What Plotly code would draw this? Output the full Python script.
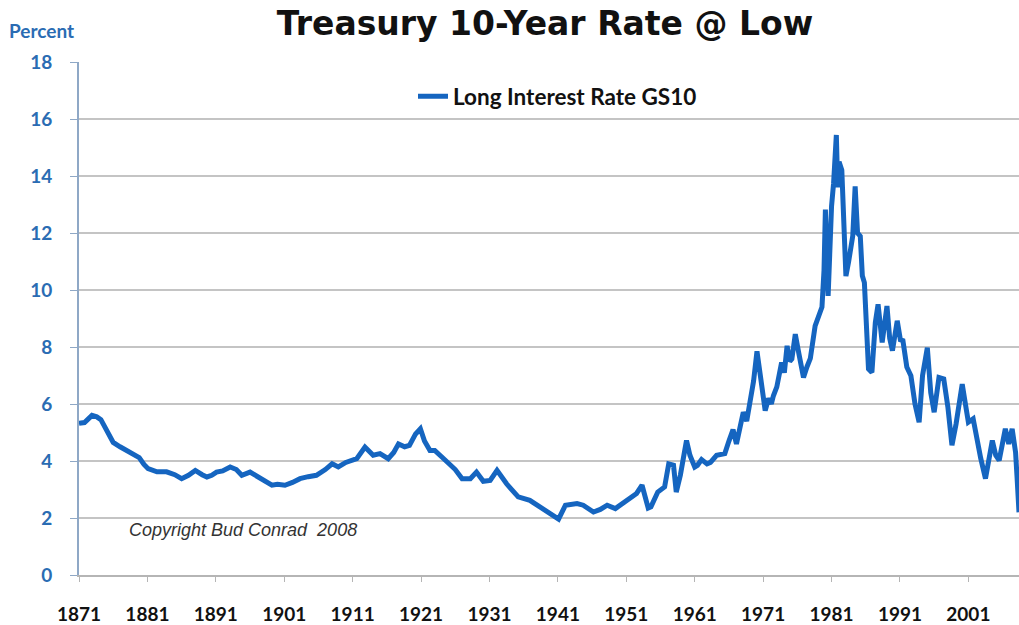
import plotly.graph_objects as go

# Long-term interest rate (GS10), percent, by fractional year
years = [
    1871.0, 1871.8, 1872.9, 1873.6, 1874.2, 1875.0, 1876.0, 1877.0, 1878.0, 1879.0,
    1879.8, 1880.5, 1881.1, 1882.4, 1883.8, 1885.0, 1886.0, 1887.0, 1888.0, 1889.0,
    1889.7, 1890.4, 1891.1, 1892.0, 1893.1, 1894.0, 1894.8, 1896.0, 1897.5, 1898.3,
    1899.2, 1900.0, 1901.1, 1902.2, 1903.3, 1904.5, 1905.7, 1907.0, 1908.0, 1908.9,
    1910.0, 1911.6, 1912.8, 1914.0, 1915.0, 1916.2, 1917.0, 1917.7, 1918.6, 1919.3,
    1920.2, 1920.9, 1921.5, 1922.3, 1923.0, 1924.0, 1924.8, 1926.0, 1927.0, 1928.2,
    1929.1, 1930.1, 1931.1, 1932.1, 1933.5, 1935.2, 1936.9, 1938.4, 1939.8, 1941.1,
    1942.1, 1943.8, 1944.7, 1946.2, 1947.2, 1948.2, 1949.4, 1950.3, 1951.1, 1952.5,
    1953.3, 1954.2, 1954.6, 1955.6, 1956.6, 1957.2, 1957.9, 1958.3, 1958.9, 1959.4,
    1959.8, 1960.3, 1961.0, 1961.4, 1962.0, 1962.8, 1963.3, 1964.2, 1965.0, 1965.4,
    1966.0, 1966.6, 1967.1, 1967.6, 1968.1, 1968.6, 1969.1, 1969.6, 1970.1, 1970.4,
    1970.9, 1971.3, 1971.8, 1972.2, 1972.5, 1973.0, 1973.7, 1974.1, 1974.5, 1974.9,
    1975.2, 1975.7, 1976.2, 1976.9, 1977.4, 1977.9, 1978.6, 1979.1, 1979.6, 1979.9,
    1980.1, 1980.5, 1980.8, 1981.0, 1981.3, 1981.7, 1981.9, 1982.1, 1982.5, 1982.7,
    1982.9, 1983.1, 1983.5, 1983.9, 1984.1, 1984.45, 1984.8, 1985.2, 1985.5, 1985.8,
    1986.2, 1986.4, 1986.9, 1987.4, 1987.8, 1988.1, 1988.4, 1989.1, 1989.5, 1989.9,
    1990.6, 1991.1, 1991.4, 1992.0, 1992.6, 1993.2, 1993.8, 1994.3, 1995.0, 1995.5,
    1996.0, 1996.7, 1997.4, 1998.0, 1998.6, 1999.2, 2000.1, 2000.7, 2001.0, 2001.7,
    2002.3, 2002.8, 2003.5, 2004.0, 2004.5, 2005.0, 2005.5, 2006.4, 2006.9, 2007.4,
    2007.9, 2008.1, 2008.4,
]
rates = [
    5.32, 5.35, 5.60, 5.55, 5.45, 5.05, 4.65, 4.50, 4.37, 4.25,
    4.12, 3.88, 3.73, 3.62, 3.62, 3.52, 3.38, 3.50, 3.67, 3.52,
    3.44, 3.50, 3.61, 3.65, 3.79, 3.70, 3.50, 3.61, 3.38, 3.30,
    3.15, 3.18, 3.15, 3.25, 3.38, 3.45, 3.50, 3.70, 3.90, 3.79,
    3.95, 4.08, 4.49, 4.20, 4.26, 4.08, 4.30, 4.60, 4.50, 4.55,
    4.95, 5.13, 4.70, 4.37, 4.37, 4.15, 3.96, 3.70, 3.38, 3.38,
    3.61, 3.29, 3.32, 3.67, 3.20, 2.74, 2.62, 2.39, 2.15, 1.96,
    2.45, 2.51, 2.45, 2.21, 2.30, 2.45, 2.33, 2.50, 2.62, 2.86,
    3.15, 2.35, 2.39, 2.91, 3.09, 3.90, 3.85, 2.91, 3.50, 4.20,
    4.72, 4.20, 3.79, 3.85, 4.05, 3.90, 3.95, 4.20, 4.22, 4.26,
    4.70, 5.10, 4.60, 5.20, 5.71, 5.40, 6.06, 6.80, 7.85, 7.40,
    6.40, 5.77, 6.20, 6.00, 6.29, 6.60, 7.46, 7.10, 8.04, 7.50,
    7.58, 8.45, 7.80, 6.93, 7.30, 7.60, 8.74, 9.10, 9.40, 10.70,
    12.82, 9.79, 12.60, 12.94, 13.75, 15.44, 13.60, 14.50, 14.20, 13.00,
    10.80, 10.49, 11.00, 11.80, 11.90, 13.64, 12.00, 11.89, 10.50, 10.26,
    8.00, 7.23, 7.11, 8.86, 9.50, 8.80, 8.16, 9.44, 8.30, 7.87,
    8.92, 8.20, 8.28, 7.30, 6.99, 6.00, 5.36, 7.00, 7.98, 6.40,
    5.71, 6.93, 6.88, 5.90, 4.55, 5.30, 6.70, 5.80, 5.36, 5.48,
    4.66, 4.10, 3.38, 4.20, 4.72, 4.20, 4.02, 5.13, 4.60, 5.13,
    4.30, 3.50, 2.20,
]

tick_years = [1871, 1881, 1891, 1901, 1911, 1921, 1931, 1941, 1951, 1961, 1971, 1981, 1991, 2001]
tick_rates = [0, 2, 4, 6, 8, 10, 12, 14, 16, 18]

LINE_BLUE = "#1565c0"
LABEL_BLUE = "#2a6cb3"
LABEL_FONT = "Lato"

fig = go.Figure()
fig.add_trace(go.Scatter(
    x=years, y=rates, mode="lines", name="Long Interest Rate GS10",
    line=dict(color=LINE_BLUE, width=5),
))

fig.update_layout(
    width=1019, height=625,
    margin=dict(l=79, r=0, t=62, b=45),
    paper_bgcolor="white", plot_bgcolor="white",
    title=dict(
        text="<b>Treasury 10-Year Rate @ Low</b>",
        x=545 / 1019, xanchor="center", xref="container",
        y=1 - 23 / 625, yanchor="middle", yref="container",
        font=dict(family="DejaVu Sans", size=33, color="#111111"),
    ),
    showlegend=True,
    legend=dict(
        x=(413 - 79) / 940, xanchor="left",
        y=1 - (97 - 62) / 518, yanchor="middle",
        bgcolor="rgba(0,0,0,0)", borderwidth=0,
        font=dict(family=LABEL_FONT, size=22.5, color="#111111", weight="bold"),
        itemwidth=30,
    ),
    xaxis=dict(
        range=[1871, 2008.4],
        tickmode="array", tickvals=tick_years, ticktext=[str(y) for y in tick_years],
        showgrid=False, zeroline=False,
        showline=True, linecolor="#b5b5b5", linewidth=2,
        ticks="outside", ticklen=5, tickcolor="#b5b5b5", tickwidth=1,
        ticklabelstandoff=16,
        tickfont=dict(family=LABEL_FONT, size=19, color="#111111", weight="bold"),
    ),
    yaxis=dict(
        range=[0, 18],
        tickmode="array", tickvals=tick_rates,
        showgrid=True, gridcolor="#c4c4c4", gridwidth=2,
        zeroline=False,
        showline=True, linecolor="#8fa8c6", linewidth=2,
        ticks="outside", ticklen=7, tickcolor="#8fa8c6", tickwidth=1,
        ticklabelstandoff=14,
        tickfont=dict(family=LABEL_FONT, size=19, color=LABEL_BLUE, weight="bold"),
    ),
    annotations=[
        dict(
            text="Percent", xref="paper", yref="paper",
            x=(7 - 79) / 940, xanchor="left",
            y=(580 - 30) / 518, yanchor="middle",
            showarrow=False,
            font=dict(family=LABEL_FONT, size=19, color=LABEL_BLUE, weight="bold"),
        ),
        dict(
            text="<i>Copyright Bud Conrad  2008</i>", xref="paper", yref="paper",
            x=(127 - 79) / 940, xanchor="left",
            y=(580 - 535) / 518, yanchor="middle",
            showarrow=False,
            font=dict(family="Liberation Sans", size=18, color="#333333"),
        ),
    ],
)

fig.write_html("out.html")
